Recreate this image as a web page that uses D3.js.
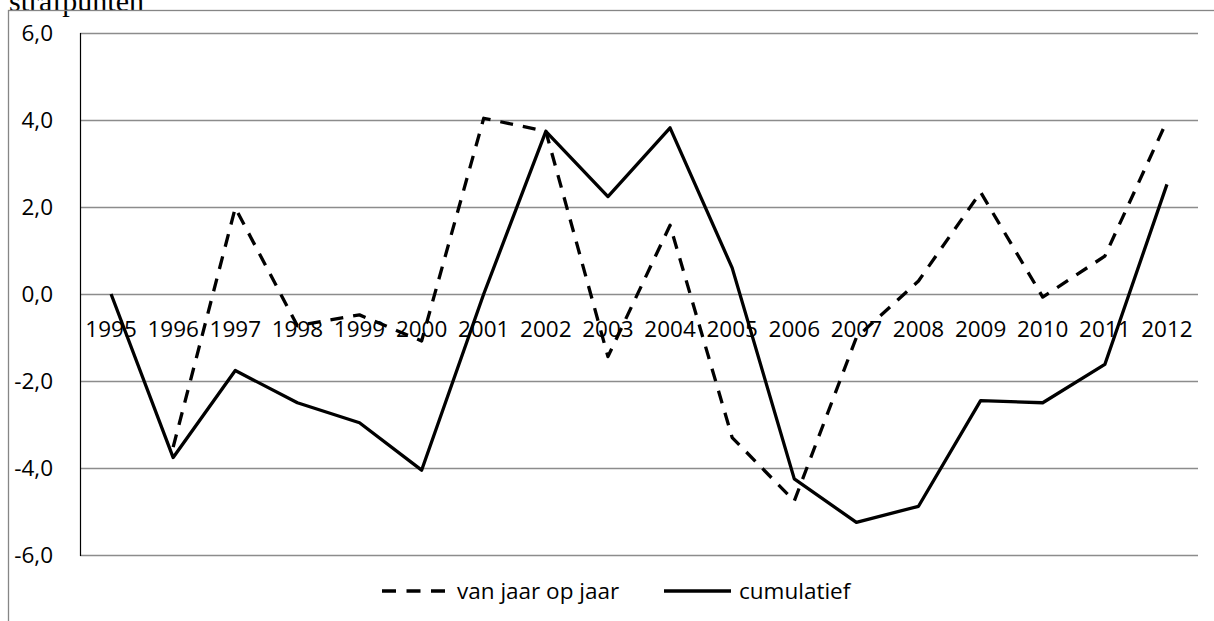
<!DOCTYPE html>
<html>
<head>
<meta charset="utf-8">
<script src="https://cdn.jsdelivr.net/npm/d3@7"></script>
<style>
  html, body { margin: 0; padding: 0; background: #fff; overflow: hidden; }
  svg { display: block; }
</style>
</head>
<body>
<svg id="chart" width="1214" height="621"></svg>
<script>
const years = ["1995","1996","1997","1998","1999","2000","2001","2002","2003","2004","2005","2006","2007","2008","2009","2010","2011","2012"];
const vanJaarOpJaar = [null,-3.52,1.98,-0.73,-0.48,-1.08,4.04,3.74,-1.44,1.58,-3.3,-4.76,-1.0,0.3,2.34,-0.07,0.87,3.98];
const cumulatief = [0,-3.76,-1.76,-2.5,-2.96,-4.05,0.0,3.74,2.24,3.82,0.6,-4.25,-5.25,-4.88,-2.45,-2.5,-1.62,2.52];
const yTicks = [-6,-4,-2,0,2,4,6];
const tickLabels = ["-6,0","-4,0","-2,0","0,0","2,0","4,0","6,0"];
const seriesNames = ["van jaar op jaar","cumulatief"];
const titleText = "strafpunten";

const svg = d3.select("#chart");
const font = "'Open Sans', sans-serif";

const x = d3.scaleBand().domain(years).range([80, 1198]).padding(0);
const cx = d => x(d) + x.bandwidth() / 2;
const y = d3.scaleLinear().domain([-6, 6]).range([555, 33]);

// title (cut off at top)
svg.append("text")
  .attr("x", 9).attr("y", 11)
  .attr("font-family", "'Liberation Serif', 'Times New Roman', serif")
  .attr("font-size", 30)
  .attr("fill", "#000")
  .text(titleText);

// outer frame
svg.append("rect")
  .attr("x", 8.5).attr("y", 10.5)
  .attr("width", 1220).attr("height", 640)
  .attr("fill", "none").attr("stroke", "#868686").attr("stroke-width", 1.3);

// gridlines
svg.append("g").selectAll("line").data(yTicks).join("line")
  .attr("x1", 80).attr("x2", 1198)
  .attr("y1", d => Math.round(y(d)) + 0.5).attr("y2", d => Math.round(y(d)) + 0.5)
  .attr("stroke", "#8c8c8c").attr("stroke-width", 1.4);

// y axis line
svg.append("line")
  .attr("x1", 80.5).attr("x2", 80.5).attr("y1", y(6)).attr("y2", y(-6) + 1)
  .attr("stroke", "#000").attr("stroke-width", 1.2);

// y tick labels
svg.append("g").selectAll("text").data(yTicks).join("text")
  .attr("x", 53).attr("y", d => y(d) + 8)
  .attr("text-anchor", "end")
  .attr("font-family", font).attr("font-size", 22.5).attr("fill", "#000")
  .text((d, i) => tickLabels[i]);

// x category labels
svg.append("g").selectAll("text").data(years).join("text")
  .attr("x", d => cx(d)).attr("y", y(0) + 43)
  .attr("text-anchor", "middle")
  .attr("font-family", font).attr("font-size", 22.5).attr("fill", "#000")
  .text(d => d);

const line = d3.line()
  .defined(d => d.v !== null)
  .x(d => cx(d.year))
  .y(d => y(d.v));

const dashData = years.map((yr, i) => ({year: yr, v: vanJaarOpJaar[i]}));
const cumData = years.map((yr, i) => ({year: yr, v: cumulatief[i]}));

svg.append("path").datum(cumData)
  .attr("d", line)
  .attr("fill", "none").attr("stroke", "#000").attr("stroke-width", 3.3)
  .attr("stroke-linejoin", "round");

svg.append("path").datum(dashData)
  .attr("d", line)
  .attr("fill", "none").attr("stroke", "#000").attr("stroke-width", 3.3)
  .attr("stroke-dasharray", "13,10")
  .attr("stroke-linejoin", "round");

// legend
const ly = 591;
const legend = svg.append("g");
legend.append("line")
  .attr("x1", 382).attr("x2", 445).attr("y1", ly).attr("y2", ly)
  .attr("stroke", "#000").attr("stroke-width", 3.5).attr("stroke-dasharray", "14,10.5");
legend.append("text")
  .attr("x", 457).attr("y", ly + 8)
  .attr("font-family", font).attr("font-size", 22.5).attr("fill", "#000")
  .text(seriesNames[0]);
legend.append("line")
  .attr("x1", 664).attr("x2", 731).attr("y1", ly).attr("y2", ly)
  .attr("stroke", "#000").attr("stroke-width", 3.5);
legend.append("text")
  .attr("x", 739).attr("y", ly + 8)
  .attr("font-family", font).attr("font-size", 22.5).attr("fill", "#000")
  .text(seriesNames[1]);
</script>
</body>
</html>
